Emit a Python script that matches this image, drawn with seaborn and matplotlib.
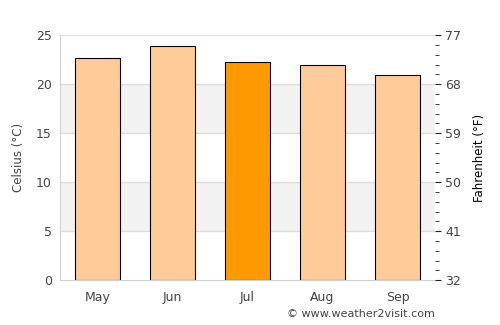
import matplotlib
matplotlib.use("Agg")
import matplotlib.pyplot as plt
import seaborn as sns
import pandas as pd

months = ["May", "Jun", "Jul", "Aug", "Sep"]
celsius = [22.7, 23.9, 22.3, 22.0, 20.9]
bar_colors = ["#FFCC99", "#FFCC99", "#FF9900", "#FFCC99", "#FFCC99"]
f_ticks = [32, 41, 50, 59, 68, 77]

df = pd.DataFrame({"month": months, "celsius": celsius})

sns.set_style("white")
plt.rcParams["font.family"] = ["DejaVu Sans"]
txt = "#444444"

fig = plt.figure(figsize=(5, 3.25), dpi=100)
ax = fig.add_axes([0.12, 0.138, 0.75, 0.754])

# grey bands and grid lines
for lo in (5, 15):
    ax.axhspan(lo, lo + 5, color="#f2f2f2", zorder=0, lw=0)
for y in range(5, 30, 5):
    ax.axhline(y, color="#dddddd", lw=1, zorder=0.5)

sns.barplot(data=df, x="month", y="celsius", hue="month", palette=bar_colors,
            saturation=1, width=0.6, edgecolor="black", linewidth=0.8,
            legend=False, ax=ax, zorder=2)

ax.set_ylim(0, 25)
ax.set_xlim(-0.5, 4.5)
ax.set_yticks(range(0, 30, 5))
ax.tick_params(axis="both", colors=txt, labelsize=9, length=0, pad=6)
ax.tick_params(axis="x", pad=8)
ax.set_xlabel("")
ax.set_ylabel("Celsius (°C)", color=txt, fontsize=8.5, labelpad=8)
for s in ("top", "right"):
    ax.spines[s].set_visible(False)
for s in ("left", "bottom"):
    ax.spines[s].set_color("#d0d0d0")

ax2 = ax.twinx()
ax2.set_ylim(32, 77)
ax2.set_yticks(f_ticks)
ax2.set_yticks([32 + 1.8 * i for i in range(26)], minor=True)
ax2.tick_params(axis="y", which="major", colors=txt, labelsize=9, length=4, color="#222222")
ax2.tick_params(axis="y", which="minor", length=3, color="#222222")
for s in ax2.spines.values():
    s.set_visible(False)
ax2.set_ylabel("Fahrenheit (°F)", color="black", fontsize=8.5, labelpad=8)

fig.text(0.87, 0.035, "© www.weather2visit.com", ha="right", va="center",
         fontsize=8, color=txt)

fig.savefig("out.png", dpi=100)
